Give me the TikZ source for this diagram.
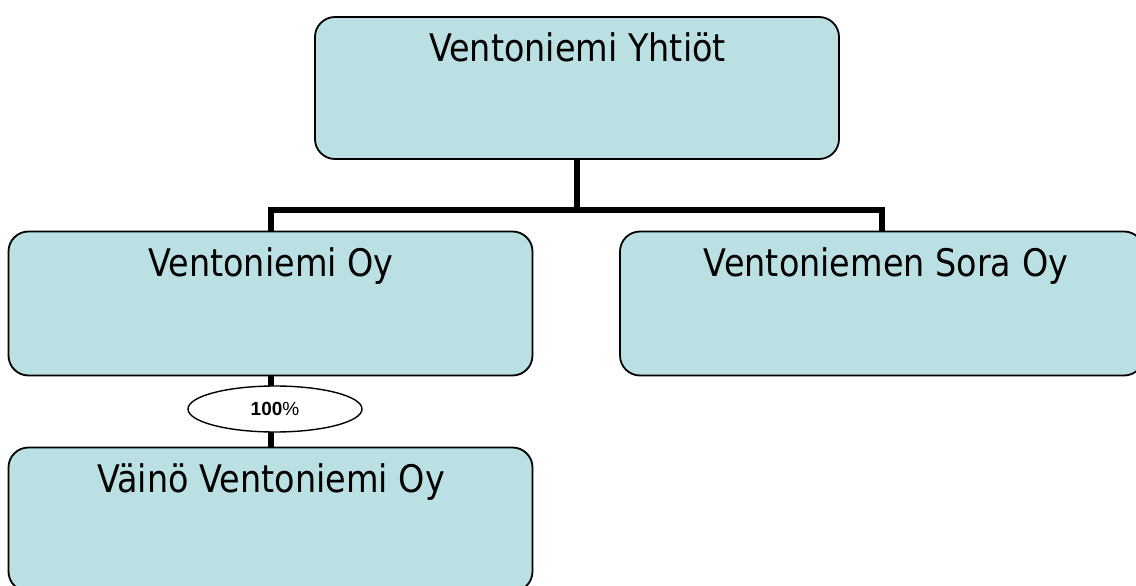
\documentclass[tikz,border=0pt]{standalone}
\usepackage{fontspec}
\setmainfont{DejaVu Sans}
\newfontfamily\pctfont{Liberation Sans}
\usetikzlibrary{shapes.geometric}
\definecolor{boxfill}{RGB}{187,224,227}
\tikzset{
  orgbox/.style={draw=black, line width=1.8pt, fill=boxfill, rounded corners=20pt,
    minimum width=524pt, minimum height=144pt, inner sep=0pt, outer sep=0pt},
  orgtext/.style={anchor=base, inner sep=0pt, font=\fontsize{38}{44}\selectfont},
  conn/.style={line width=6pt, line join=miter},
  pct/.style={ellipse, draw=black, line width=1.4pt, fill=white, minimum width=174pt,
    minimum height=46pt, inner sep=0pt, font=\pctfont\fontsize{19}{22}\selectfont}
}
\newcommand{\orglabel}[1]{\scalebox{0.88}[1]{#1}}
\begin{document}
\begin{tikzpicture}[x=1pt,y=-1pt]
  \clip (0,0) rectangle (1136,586);
  \fill[white] (0,0) rectangle (1136,586);
  % boxes
  \node[orgbox, anchor=north, minimum height=142pt] (top) at (577,17) {};
  \node[orgbox, anchor=north] (left) at (270.5,231.5) {};
  \node[orgbox, anchor=north] (right) at (882,231.5) {};
  \node[orgbox, anchor=north] (bot) at (270.5,447.5) {};
  % texts
  \node[orgtext] (ttop) at (577.5,61.7) {\orglabel{Ventoniemi Yhtiöt}};
  \node[orgtext] (tleft) at (271,276.5) {\orglabel{Ventoniemi Oy}};
  \node[orgtext] (tright) at (886,276.5) {\orglabel{Ventoniemen Sora Oy}};
  \node[orgtext] (tbot) at (271,492.5) {\orglabel{Väinö Ventoniemi Oy}};
  % connectors
  \coordinate (busL) at (270.5,209.5);
  \coordinate (busR) at (882,209.5);
  \draw[conn] (top.south) -- (top.south |- busL);
  \draw[conn] (left.north) -- (busL) -- (busR) -- (right.north);
  \draw[conn] (left.south) -- (bot.north);
  \node[pct] (p) at (275,409) {\textbf{100}\%};
\end{tikzpicture}
\end{document}
